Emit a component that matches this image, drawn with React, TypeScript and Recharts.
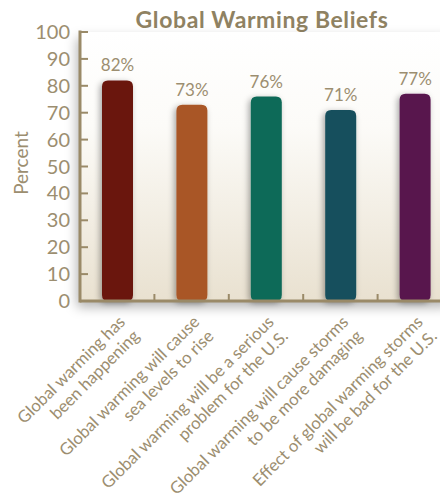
import React from 'react';
import { BarChart, Bar, XAxis, YAxis, CartesianGrid, Cell, LabelList } from 'recharts';

// Survey statements (two lines each), agreement percentages and bar colours
const statementLines: string[][] = [
  ['Global warming has', 'been happening'],
  ['Global warming will cause', 'sea levels to rise'],
  ['Global warming will be a serious', 'problem for the U.S.'],
  ['Global warming will cause storms', 'to be more damaging'],
  ['Effect of global warming storms', 'will be bad for the U.S.'],
];
const percents = [82, 73, 76, 71, 77];
const barColors = ['#6b1811', '#a95727', '#0f6a58', '#17505d', '#58164e'];
const yTicks = [0, 10, 20, 30, 40, 50, 60, 70, 80, 90, 100];

const data = statementLines.map((lines, i) => ({
  statement: lines.join('|'),
  percent: percents[i],
}));

const TEXT = '#9c8e70';
const AXIS = '#9a8a68';
const FONT = 'Lato, "DejaVu Sans", sans-serif';

const CHART_W = 452;
const CHART_H = 502;
const PLOT_LEFT = 80;
const BAND = (CHART_W - PLOT_LEFT) / statementLines.length;
const Y_TICK_MARGIN = 10;

const YTick = (props: any) => {
  const { x, y, payload } = props;
  const axisX = x + Y_TICK_MARGIN;
  return (
    <g>
      <line x1={axisX} x2={axisX + 8} y1={y} y2={y} stroke={AXIS} strokeWidth={2} />
      <text x={x} y={y} dy="0.35em" textAnchor="end" fill={TEXT} fontSize={20} fontFamily={FONT}>
        {payload.value}
      </text>
    </g>
  );
};

const XTick = (props: any) => {
  const { x, y, payload } = props;
  const lines = String(payload.value).split('|');
  const bx = x + BAND / 2;
  return (
    <g>
      <line x1={bx} x2={bx} y1={y} y2={y - 7} stroke={AXIS} strokeWidth={2} />
      <g transform={`translate(${x + 9},${y + 22}) rotate(-45)`}>
        {lines.map((line, i) => (
          <text key={i} x={0} y={i * 20} textAnchor="end" fill={TEXT} fontSize={16.8} fontFamily={FONT}>
            {line}
          </text>
        ))}
      </g>
    </g>
  );
};

const RoundedBar = (props: any) => {
  const { x, y, width, height, fill } = props;
  if (!height || height <= 0) return null;
  const r = Math.min(6, width / 2, height / 2);
  const d = `M${x + r},${y} H${x + width - r} Q${x + width},${y} ${x + width},${y + r} V${y + height - r} Q${x + width},${y + height} ${x + width - r},${y + height} H${x + r} Q${x},${y + height} ${x},${y + height - r} V${y + r} Q${x},${y} ${x + r},${y} Z`;
  return <path d={d} fill={fill} filter="url(#barShadow)" />;
};

export default function App() {
  return (
    <div style={{ margin: -8, width: 448, height: 502, overflow: 'hidden', position: 'relative', background: '#fff' }}>
      <style>{`.recharts-cartesian-grid-bg { filter: url(#panelShadow); }`}</style>
      <div
        style={{
          position: 'absolute',
          left: 262,
          top: 6,
          transform: 'translateX(-50%)',
          whiteSpace: 'nowrap',
          fontFamily: FONT,
          fontWeight: 700,
          fontSize: 23,
          letterSpacing: 0.6,
          lineHeight: '26px',
          color: '#8f8262',
        }}
      >
        Global Warming Beliefs
      </div>
      <div
        style={{
          position: 'absolute',
          left: 20,
          top: 163,
          transform: 'translate(-50%, -50%) rotate(-90deg)',
          whiteSpace: 'nowrap',
          fontFamily: FONT,
          fontSize: 19,
          color: TEXT,
        }}
      >
        Percent
      </div>
      <BarChart
        width={CHART_W}
        height={CHART_H}
        data={data}
        margin={{ top: 32, right: 0, left: 0, bottom: 0 }}
      >
        <defs>
          <linearGradient id="panelFill" x1="0" y1="0" x2="0" y2="1">
            <stop offset="0" stopColor="#ffffff" />
            <stop offset="0.35" stopColor="#fcfbf8" />
            <stop offset="1" stopColor="#e9e1d0" />
          </linearGradient>
          <filter id="panelShadow" x="-10%" y="-10%" width="130%" height="130%">
            <feDropShadow dx={-3} dy={6} stdDeviation={6} floodColor="#000" floodOpacity={0.3} />
          </filter>
          <filter id="barShadow" x="-50%" y="-20%" width="200%" height="140%">
            <feDropShadow dx={-2} dy={2} stdDeviation={3} floodColor="#000" floodOpacity={0.35} />
          </filter>
        </defs>
        <CartesianGrid horizontal={false} vertical={false} fill="url(#panelFill)" />
        <XAxis
          dataKey="statement"
          height={201}
          interval={0}
          tickSize={0}
          tickMargin={0}
          tick={<XTick />}
          axisLine={{ stroke: AXIS, strokeWidth: 3 }}
          tickLine={false}
        />
        <YAxis
          width={PLOT_LEFT}
          domain={[0, 100]}
          ticks={yTicks}
          interval={0}
          tickSize={0}
          tickMargin={Y_TICK_MARGIN}
          tick={<YTick />}
          axisLine={{ stroke: AXIS, strokeWidth: 3, strokeLinecap: 'square' }}
          tickLine={false}
        />
        <Bar dataKey="percent" barSize={31} isAnimationActive={false} shape={<RoundedBar />}>
          {data.map((_, i) => (
            <Cell key={i} fill={barColors[i]} />
          ))}
          <LabelList
            dataKey="percent"
            position="top"
            offset={9}
            formatter={(v: any) => `${v}%`}
            fill={TEXT}
            fontSize={17}
            fontFamily={FONT}
          />
        </Bar>
      </BarChart>
    </div>
  );
}
